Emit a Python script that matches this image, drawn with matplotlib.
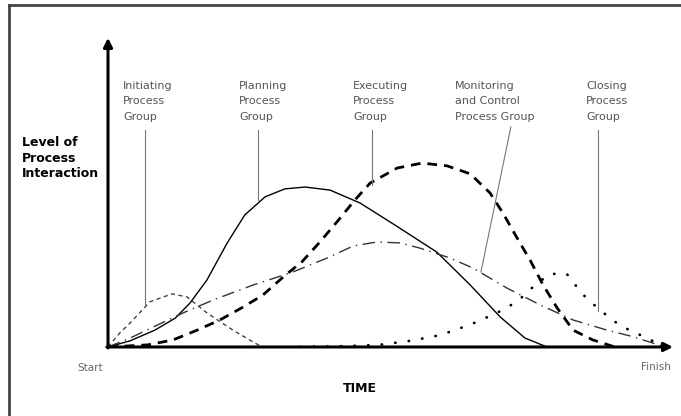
import matplotlib.pyplot as plt
from matplotlib.lines import Line2D

# time axis runs 0 (Start) .. 100 (Finish); level 0 .. 100 (arrow tip)
init_t = [0, 2.1, 3.9, 7.4, 11.3, 14.0, 17.5, 22.1, 25.7, 27.3]
init_l = [0, 4.6, 7.8, 14.7, 17.3, 16.3, 11.1, 5.5, 1.6, 0]

plan_t = [0, 3.9, 8.3, 11.9, 14.5, 17.5, 21.1, 24.2, 27.8, 31.3, 34.9, 39.3,
          44.6, 50.8, 58.2, 64.1, 69.4, 73.8, 77.7]
plan_l = [0, 2.0, 5.5, 9.4, 14.3, 21.8, 33.9, 43.0, 48.9, 51.5, 52.1, 51.1,
          46.9, 39.7, 30.9, 20.2, 9.8, 2.9, 0]

exec_t = [0, 7.1, 11.5, 15.8, 19.8, 23.9, 27.4, 31.0, 34.3, 37.5, 40.5, 43.7,
          46.4, 51.2, 55.6, 60.0, 64.1, 67.6, 69.9, 72.4, 74.7, 77.0, 79.5,
          82.3, 85.8, 89.7]
exec_l = [0, 0.7, 2.3, 5.5, 8.8, 13.0, 16.9, 22.8, 27.7, 34.2, 40.7, 47.9,
          53.4, 58.3, 59.9, 59.0, 56.4, 50.2, 43.6, 35.5, 28.3, 20.2, 12.7,
          5.5, 2.3, 0]

mon_t = [0, 3.9, 8.0, 13.3, 18.6, 25.7, 32.7, 38.8, 43.4, 47.6, 51.7, 55.2,
         60.5, 64.6, 70.6, 76.5, 82.3, 88.3, 92.4, 95.9, 98.6]
mon_l = [0, 2.9, 6.5, 11.1, 15.3, 20.2, 24.4, 29.0, 32.9, 34.2, 33.9, 32.2,
         29.0, 25.7, 19.2, 13.7, 8.8, 5.5, 3.6, 1.6, 0]

close_t = [34.0, 42.3, 48.0, 53.5, 58.9, 64.4, 67.6, 70.3, 72.9, 75.6, 78.2,
           81.2, 83.0, 84.8, 87.1, 89.2, 91.5, 94.2, 96.8, 100]
close_l = [0, 0.3, 0.7, 2.0, 3.9, 7.5, 10.1, 12.4, 15.6, 20.2, 23.8,
           23.8, 19.5, 15.6, 12.1, 8.8, 6.2, 3.9, 1.6, 0]

labels = ["Initiating\nProcess\nGroup", "Planning\nProcess\nGroup",
          "Executing\nProcess\nGroup", "Monitoring\nand Control\nProcess Group",
          "Closing\nProcess\nGroup"]
label_x = [2.7, 23.2, 43.4, 61.4, 84.6]
# leader lines: (x top, y top, x bottom, y bottom)
leaders = [(6.5, 70.7, 6.5, 13.0), (26.5, 70.7, 26.5, 47.9),
           (46.7, 70.7, 46.7, 52.8), (71.3, 71.7, 66.0, 24.4),
           (86.7, 70.7, 86.7, 11.7)]

narrow = ["Liberation Sans Narrow", "DejaVu Sans"]

fig = plt.figure(figsize=(6.81, 4.16), dpi=100)
ax = fig.add_axes([0.1586, 0.1659, 0.8297, 0.738])
ax.set_xlim(0, 100)
ax.set_ylim(0, 100)
ax.axis("off")

ax.plot(init_t, init_l, color="#444444", lw=1.0, linestyle=(0, (3, 2.5)))
ax.plot(plan_t, plan_l, color="black", lw=1.0)
ax.plot(exec_t, exec_l, color="black", lw=2.0, linestyle=(0, (3.5, 2.5)))
ax.plot(mon_t, mon_l, color="#333333", lw=1.0, linestyle=(0, (9, 4, 1, 4)))
ax.plot(close_t, close_l, color="black", lw=2.0, linestyle=(0, (0.1, 4.8)),
        dash_capstyle="round")

# axes arrows
ax.annotate("", xy=(0, 100.7), xytext=(0, -0.3), annotation_clip=False,
            arrowprops=dict(arrowstyle="-|>", lw=2.2, color="black",
                            mutation_scale=13, shrinkA=0, shrinkB=0))
ax.annotate("", xy=(100, 0), xytext=(-0.2, 0), annotation_clip=False,
            arrowprops=dict(arrowstyle="-|>", lw=2.2, color="black",
                            mutation_scale=13, shrinkA=0, shrinkB=0))

for txt, x in zip(labels, label_x):
    ax.text(x, 86.8, txt, ha="left", va="top", fontsize=8, color="#555555",
            family=narrow, linespacing=1.7, clip_on=False)
for x0, y0, x1, y1 in leaders:
    ax.plot([x0, x1], [y0, y1], color="#777777", lw=0.8, clip_on=False)

fig.text(0.032, 0.672, "Level of\nProcess\nInteraction", ha="left", va="top",
         fontsize=9, fontweight="bold", family=narrow, linespacing=1.25)
fig.text(0.132, 0.115, "Start", ha="center", va="center", fontsize=7.5,
         color="#666666", family=narrow)
fig.text(0.963, 0.118, "Finish", ha="center", va="center", fontsize=7.5,
         color="#666666", family=narrow)
fig.text(0.529, 0.067, "TIME", ha="center", va="center", fontsize=9,
         fontweight="bold", family=narrow)

# outer frame (top and left edges only)
fig.add_artist(Line2D([0.0132, 1], [0.988, 0.988], color="#444444", lw=2))
fig.add_artist(Line2D([0.0132, 0.0132], [0, 0.988], color="#444444", lw=2))

fig.savefig("out.png", dpi=100)
